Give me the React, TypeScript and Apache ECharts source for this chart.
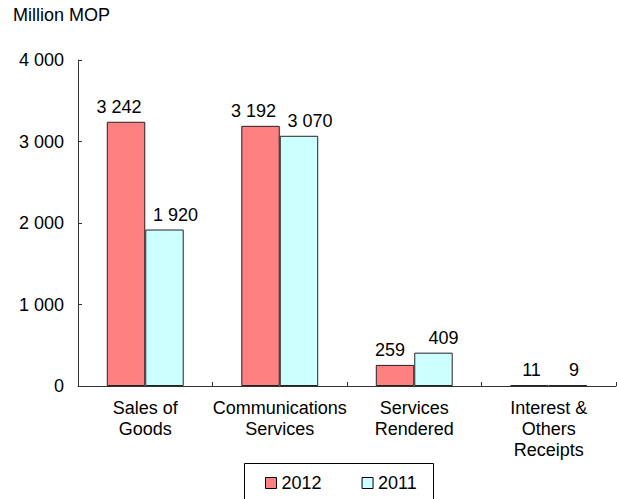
import React, { useEffect, useRef } from "react";
import * as echarts from "echarts";

const categories = [
  "Sales of\nGoods",
  "Communications\nServices",
  "Services\nRendered",
  "Interest &\nOthers\nReceipts",
];
const values2012 = [3242, 3192, 259, 11];
const values2011 = [1920, 3070, 409, 9];
const seriesNames = ["2012", "2011"];
const yTicks = { min: 0, max: 4000, interval: 1000 };
const unitLabel = "Million MOP";

const FONT = "'Liberation Sans', Arial, sans-serif";

const fmt = (v: number) =>
  String(Math.round(v)).replace(/\B(?=(\d{3})+(?!\d))/g, " ");

// label x-offsets (style only) per category for each series
const offs2012 = [-7, -7, -5, 2];
const offs2011 = [11, 11, 10, 6];

export default function App() {
  const ref = useRef<HTMLDivElement>(null);
  useEffect(() => {
    if (!ref.current) return;
    const chart = echarts.init(ref.current, undefined, { renderer: "svg" });
    const labelBase = {
      show: true,
      position: "top" as const,
      distance: 6,
      color: "#000",
      fontSize: 18,
      fontFamily: FONT,
      formatter: (p: any) => fmt(p.value),
    };
    const toData = (vals: number[], offs: number[]) =>
      vals.map((v, i) => ({ value: v, label: { offset: [offs[i], 0] } }));
    chart.setOption({
      animation: false,
      textStyle: { fontFamily: FONT },
      grid: { left: 78, right: 1, top: 60, bottom: 113, containLabel: false },
      graphic: [
        {
          type: "text",
          left: 13,
          top: 6,
          style: { text: unitLabel, fontSize: 18, fontFamily: FONT, fill: "#000" },
        },
        {
          type: "rect",
          shape: { x: 244.5, y: 463.5, width: 189, height: 50 },
          style: { fill: "none", stroke: "#000", lineWidth: 1 },
        },
      ],
      legend: {
        data: seriesNames,
        left: 260,
        top: 469,
        itemWidth: 11,
        itemHeight: 11,
        itemGap: 40,
        icon: "rect",
        textStyle: { fontSize: 18, fontFamily: FONT, color: "#000" },
        itemStyle: { borderColor: "#000", borderWidth: 1 },
      },
      xAxis: {
        type: "category",
        data: categories,
        axisLine: { lineStyle: { color: "#333", width: 1 } },
        axisTick: { show: true, inside: true, length: 4, lineStyle: { color: "#333" } },
        axisLabel: {
          interval: 0,
          margin: 11,
          fontSize: 18,
          lineHeight: 21,
          color: "#000",
          fontFamily: FONT,
        },
      },
      yAxis: {
        type: "value",
        min: yTicks.min,
        max: yTicks.max,
        interval: yTicks.interval,
        splitLine: { show: false },
        axisLine: { show: true, lineStyle: { color: "#333", width: 1 } },
        axisTick: { show: true, inside: true, length: 4, lineStyle: { color: "#333" } },
        axisLabel: {
          margin: 14,
          fontSize: 18,
          color: "#000",
          fontFamily: FONT,
          formatter: (v: number) => fmt(v),
        },
      },
      series: [
        {
          name: seriesNames[0],
          type: "bar",
          data: toData(values2012, offs2012),
          barWidth: "28.6%",
          barGap: "0%",
          itemStyle: { color: "#FF8080", borderColor: "#222", borderWidth: 1 },
          label: labelBase,
        },
        {
          name: seriesNames[1],
          type: "bar",
          data: toData(values2011, offs2011),
          barWidth: "28.6%",
          barGap: "0%",
          itemStyle: { color: "#CCFFFF", borderColor: "#222", borderWidth: 1 },
          label: labelBase,
        },
      ],
    });
    return () => chart.dispose();
  }, []);
  return (
    <div
      ref={ref}
      style={{ position: "fixed", left: 0, top: 0, width: 617, height: 499, background: "#fff" }}
    />
  );
}
